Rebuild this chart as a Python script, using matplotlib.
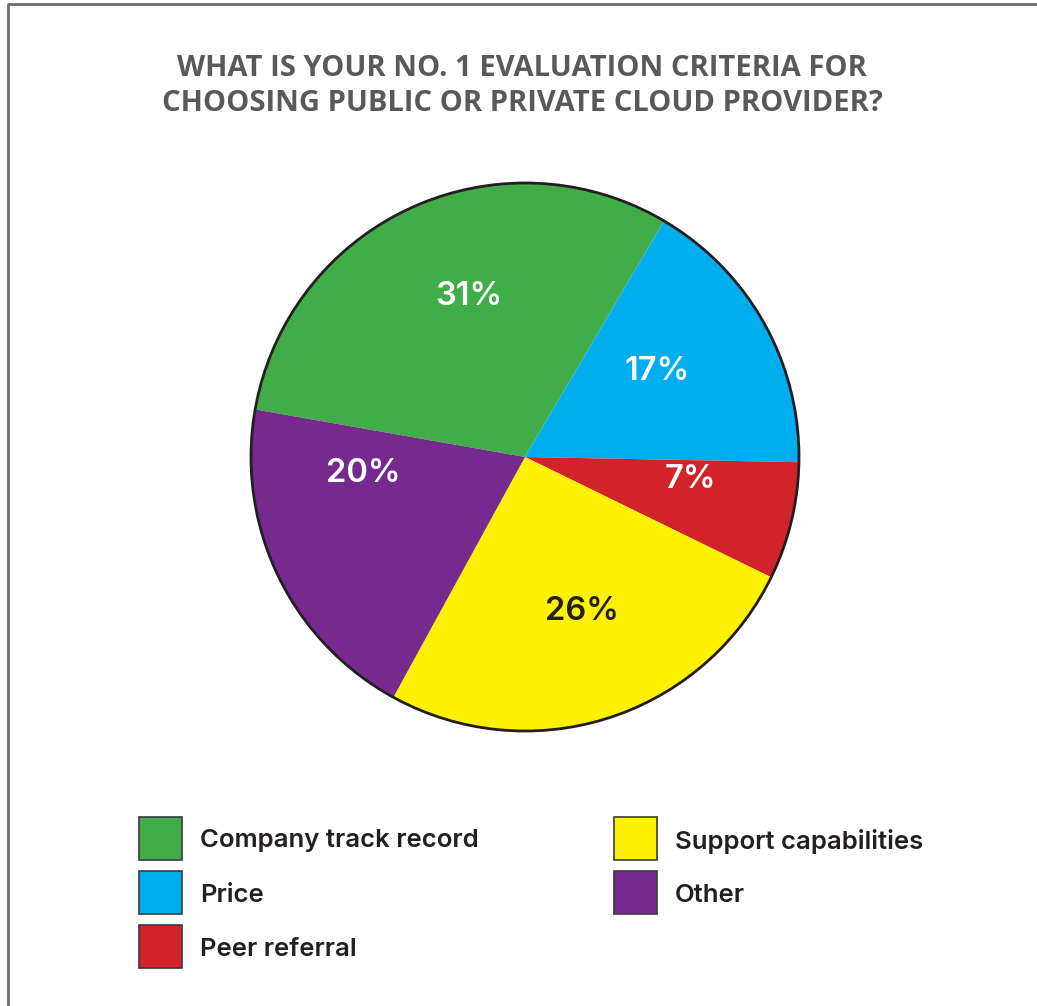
import matplotlib
matplotlib.use("Agg")
import matplotlib.pyplot as plt
from matplotlib.patches import Rectangle

# Survey results
categories = ["Company track record", "Price", "Peer referral", "Support capabilities", "Other"]
shares = [31, 17, 7, 26, 20]
colors = ["#41AD49", "#00AEEF", "#D2232A", "#FFF200", "#762A8E"]
label_colors = ["white", "white", "white", "#231F20", "white"]
title = "WHAT IS YOUR NO. 1 EVALUATION CRITERIA FOR\nCHOOSING PUBLIC OR PRIVATE CLOUD PROVIDER?"

W, H = 1037, 1006
fig = plt.figure(figsize=(W / 100, H / 100), dpi=100)
ax = fig.add_axes([0, 0, 1, 1])

def Y(y):
    return H - y

# pie
cx, cy, r = 525, Y(457), 274
ax.pie(shares, colors=colors, startangle=170, counterclock=False,
       center=(cx, cy), radius=r, frame=True,
       wedgeprops=dict(linewidth=0))
ax.set_xlim(0, W)
ax.set_ylim(0, H)
ax.set_aspect("equal")
ax.axis("off")
ax.add_patch(plt.Circle((cx, cy), r, fill=False, edgecolor="#231F20", lw=2))

# frame (top and left edges)
ax.plot([8, 8, W], [0, Y(4), Y(4)], color="#6D6E71", lw=2, solid_capstyle="butt")

# title
ax.text(522, Y(86), title, ha="center", va="center", fontsize=21,
        fontweight="bold", family="Open Sans", color="#58595B", linespacing=1.25)

# value labels placed inside each slice
label_pos = [(469, 296), (657, 371), (690, 479), (582, 611), (363, 473)]
for v, (lx, ly), c in zip(shares, label_pos, label_colors):
    ax.text(lx, Y(ly), f"{v}%", ha="center", va="center", fontsize=23.5,
            family="Inter", fontweight="semibold", color=c)

# legend
legend_pos = [(139, 817), (139, 871), (139, 925), (614, 817), (614, 871)]
for (lx, ly), cat, col in zip(legend_pos, categories, colors):
    ax.add_patch(Rectangle((lx, Y(ly + 43)), 43, 43, facecolor=col,
                           edgecolor="#3a3a3a", lw=1.2))
    ax.text(lx + 61, Y(ly + 24), cat, ha="left", va="center", fontsize=18.5,
            family="Inter", fontweight="semibold", color="#231F20")

fig.savefig("out.png", dpi=100)
